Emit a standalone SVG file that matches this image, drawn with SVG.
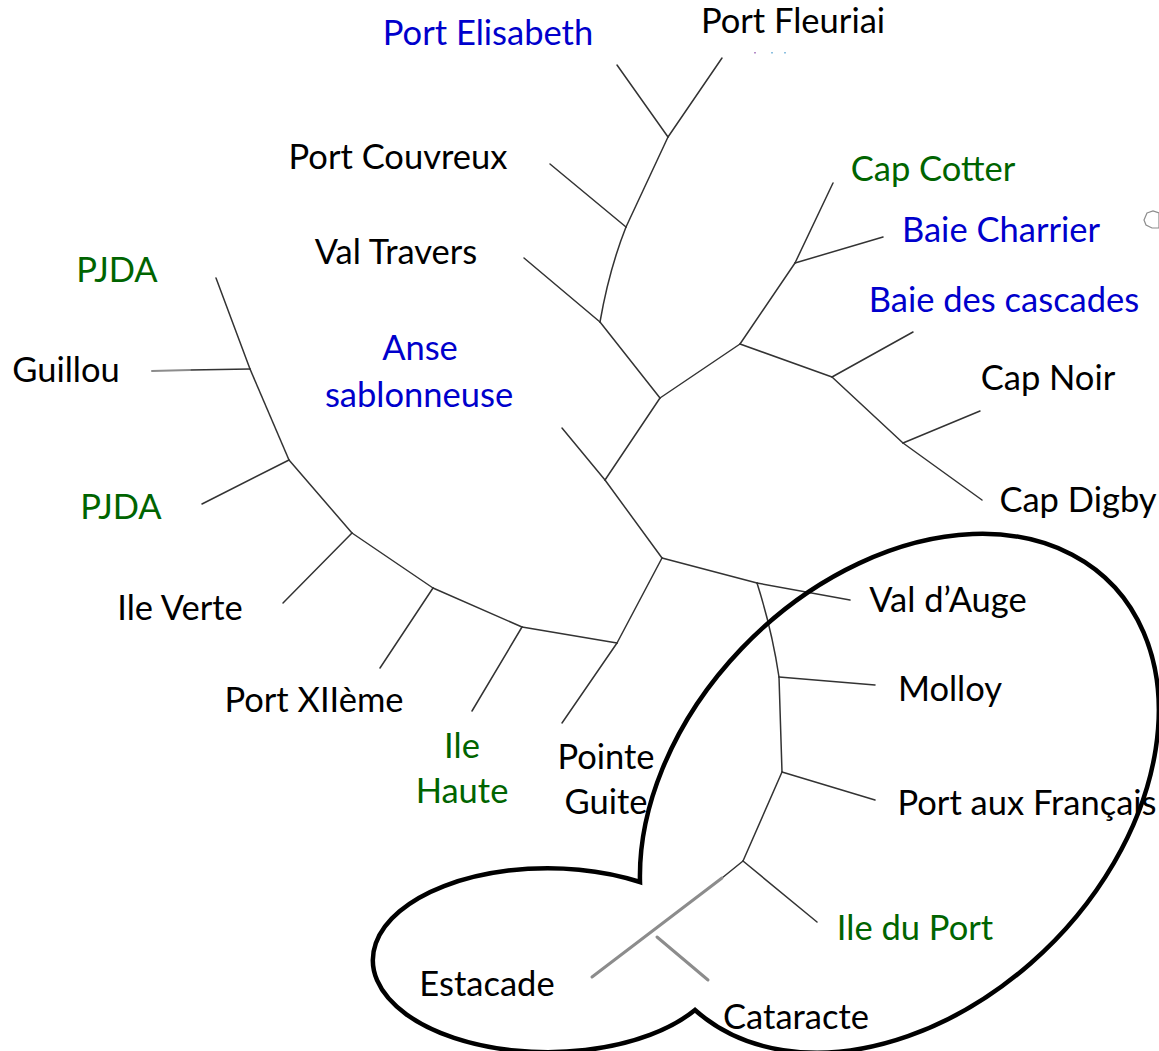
<svg xmlns="http://www.w3.org/2000/svg" width="1159" height="1051" viewBox="0 0 1159 1051">
<style>
  .e { stroke:#333; stroke-width:1.5; fill:none; stroke-linecap:round; }
  .g { stroke:#8c8c8c; stroke-width:3; fill:none; stroke-linecap:round; }
  .lbl { font-family: Lato, "Liberation Sans", sans-serif; font-size:34.5px; text-anchor:middle; }
  .k { fill:#000; }
  .b { fill:#0000cc; }
  .v { fill:#006400; }
  .outline { fill:none; stroke:#000; stroke-width:4.5; stroke-linejoin:miter; }
</style>
<rect width="1159" height="1051" fill="#fff"/>
<g id="connectors">
  <line class="e" x1="662" y1="558" x2="605" y2="480"/>
  <line class="e" x1="605" y1="480" x2="562" y2="428"/>
  <line class="e" x1="605" y1="480" x2="660" y2="398"/>
  <line class="e" x1="660" y1="398" x2="600" y2="322"/>
  <line class="e" x1="600" y1="322" x2="524" y2="258"/>
  <path class="e" d="M600 322 Q609 270 626 227"/>
  <line class="e" x1="626" y1="227" x2="550" y2="164"/>
  <line class="e" x1="626" y1="227" x2="668" y2="137"/>
  <line class="e" x1="668" y1="137" x2="617" y2="65"/>
  <line class="e" x1="668" y1="137" x2="722" y2="58"/>
  <line class="e" x1="660" y1="398" x2="740" y2="344"/>
  <line class="e" x1="740" y1="344" x2="795" y2="263"/>
  <line class="e" x1="795" y1="263" x2="833" y2="183"/>
  <line class="e" x1="795" y1="263" x2="883" y2="237"/>
  <line class="e" x1="740" y1="344" x2="832" y2="377"/>
  <line class="e" x1="832" y1="377" x2="913" y2="332"/>
  <line class="e" x1="832" y1="377" x2="903" y2="443"/>
  <line class="e" x1="903" y1="443" x2="980" y2="411"/>
  <line class="e" x1="903" y1="443" x2="982" y2="500"/>
  <line class="e" x1="662" y1="558" x2="617" y2="643"/>
  <line class="e" x1="617" y1="643" x2="562" y2="723"/>
  <line class="e" x1="617" y1="643" x2="522" y2="627"/>
  <line class="e" x1="522" y1="627" x2="472" y2="711"/>
  <line class="e" x1="522" y1="627" x2="433" y2="588"/>
  <line class="e" x1="433" y1="588" x2="380" y2="668"/>
  <line class="e" x1="433" y1="588" x2="352" y2="533"/>
  <line class="e" x1="352" y1="533" x2="283" y2="603"/>
  <line class="e" x1="352" y1="533" x2="289" y2="460"/>
  <line class="e" x1="289" y1="460" x2="202" y2="504"/>
  <line class="e" x1="289" y1="460" x2="250" y2="369"/>
  <line class="e" x1="250" y1="369" x2="190" y2="370"/>
  <line x1="190" y1="370" x2="152" y2="371" stroke="#8c8c8c" stroke-width="2" stroke-linecap="round"/>
  <line class="e" x1="250" y1="369" x2="216" y2="278"/>
  <line class="e" x1="662" y1="558" x2="757" y2="583"/>
  <line class="e" x1="757" y1="583" x2="850" y2="600"/>
  <path class="e" d="M757 583 Q772 630 779 677"/>
  <line class="e" x1="779" y1="677" x2="875" y2="685"/>
  <line class="e" x1="779" y1="677" x2="782" y2="772"/>
  <line class="e" x1="782" y1="772" x2="875" y2="800"/>
  <line class="e" x1="782" y1="772" x2="743" y2="861"/>
  <line class="e" x1="743" y1="861" x2="817" y2="922"/>
  <line class="e" x1="743" y1="861" x2="722" y2="878"/>
  <line class="g" x1="722" y1="878" x2="592" y2="977"/>
  <line class="g" x1="657" y1="937" x2="708" y2="980"/>
</g>
<g id="group-outline">
  <path class="outline" d="M640 882 A298 214 -45 1 1 695 1010 A175 92 0 1 1 640 882 Z"/>
</g>
<g id="marks">
  <path d="M1147 213 L1153 211 L1159 213 L1159 228 L1152 228 L1146 225 L1144 220 Z" fill="#fff" stroke="#8c8c8c" stroke-width="1.2"/>
  <rect x="754" y="52" width="2" height="1.5" fill="#b48cc8"/>
  <rect x="771" y="52" width="2" height="1.5" fill="#8cc0e0"/>
  <rect x="784" y="52" width="2" height="1.5" fill="#8cc0e0"/>
</g>
<g id="n-port-elisabeth"><text class="lbl b" x="488" y="45">Port Elisabeth</text></g>
<g id="n-port-fleuriai"><text class="lbl k" x="793" y="33">Port Fleuriai</text></g>
<g id="n-port-couvreux"><text class="lbl k" x="398" y="169">Port Couvreux</text></g>
<g id="n-cap-cotter"><text class="lbl v" x="933" y="181">Cap Cotter</text></g>
<g id="n-baie-charrier"><text class="lbl b" x="1001" y="242">Baie Charrier</text></g>
<g id="n-val-travers"><text class="lbl k" x="396" y="264">Val Travers</text></g>
<g id="n-pjda-1"><text class="lbl v" x="117" y="282">PJDA</text></g>
<g id="n-baie-cascades"><text class="lbl b" x="1004" y="312">Baie des cascades</text></g>
<g id="n-anse-sablonneuse"><text class="lbl b" x="420" y="360">Anse</text><text class="lbl b" x="419" y="407">sablonneuse</text></g>
<g id="n-guillou"><text class="lbl k" x="66" y="382">Guillou</text></g>
<g id="n-cap-noir"><text class="lbl k" x="1048" y="390">Cap Noir</text></g>
<g id="n-pjda-2"><text class="lbl v" x="121" y="519">PJDA</text></g>
<g id="n-cap-digby"><text class="lbl k" x="1078" y="512">Cap Digby</text></g>
<g id="n-val-dauge"><text class="lbl k" x="948" y="612">Val d’Auge</text></g>
<g id="n-ile-verte"><text class="lbl k" x="180" y="620">Ile Verte</text></g>
<g id="n-molloy"><text class="lbl k" x="950" y="701">Molloy</text></g>
<g id="n-port-xii"><text class="lbl k" x="314" y="712">Port XIIème</text></g>
<g id="n-ile-haute"><text class="lbl v" x="462" y="758">Ile</text><text class="lbl v" x="462" y="803">Haute</text></g>
<g id="n-pointe-guite"><text class="lbl k" x="606" y="769">Pointe</text><text class="lbl k" x="606" y="814">Guite</text></g>
<g id="n-port-aux-francais"><text class="lbl k" x="1027" y="815">Port aux Français</text></g>
<g id="n-ile-du-port"><text class="lbl v" x="915" y="940">Ile du Port</text></g>
<g id="n-estacade"><text class="lbl k" x="487" y="996">Estacade</text></g>
<g id="n-cataracte"><text class="lbl k" x="796" y="1029">Cataracte</text></g>
</svg>
